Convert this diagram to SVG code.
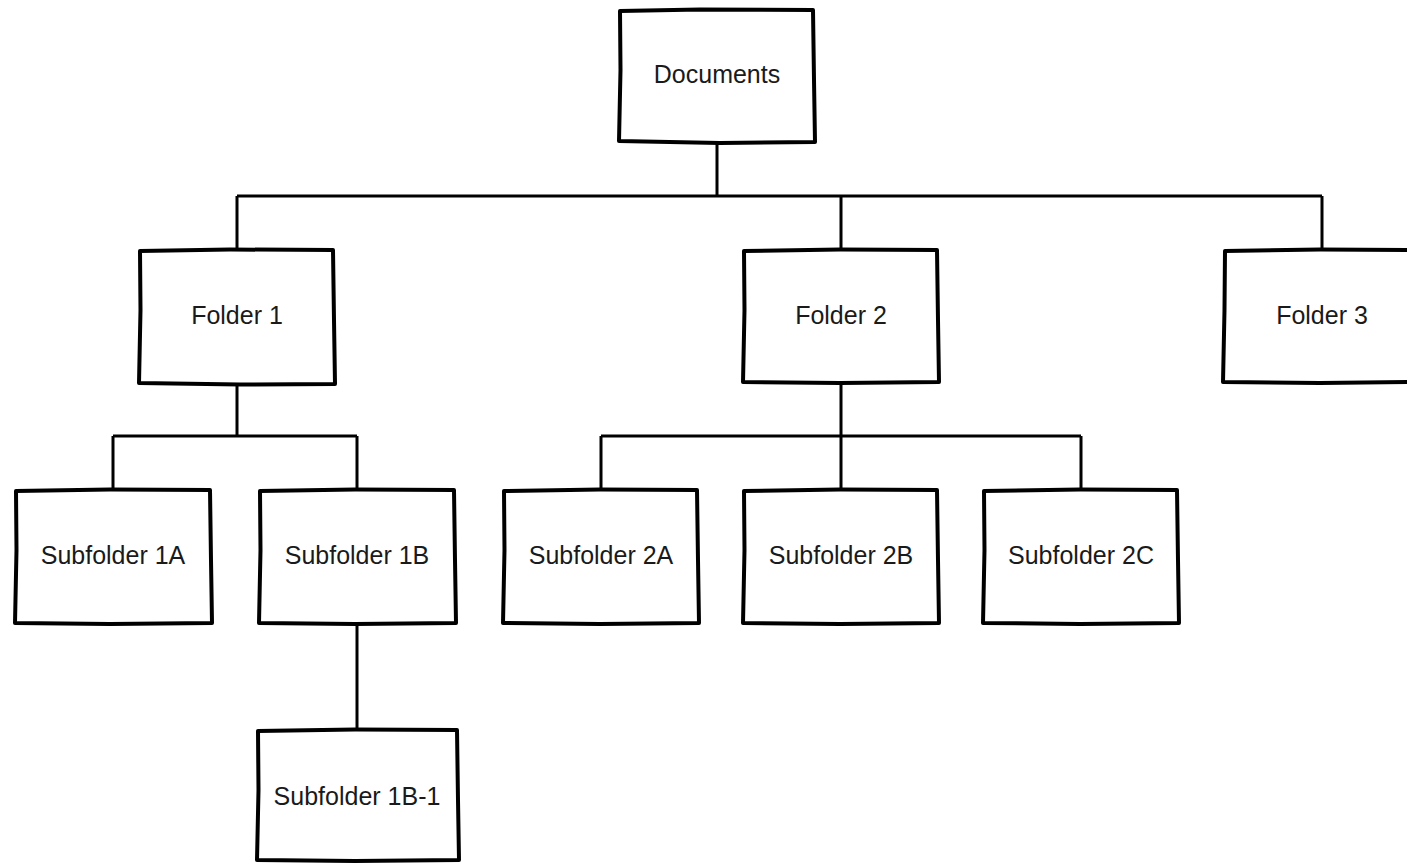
<svg xmlns="http://www.w3.org/2000/svg" width="1407" height="863" viewBox="0 0 1407 863">
<style>
.box{fill:#fff;stroke:#000;stroke-width:4;stroke-linejoin:round;stroke-linecap:round}
.lbl{font-family:"Liberation Sans",Arial,sans-serif;font-size:25px;fill:#1a1a1a;text-anchor:middle}
.con{fill:none;stroke:#000;stroke-width:3}
</style>
<rect width="1407" height="863" fill="#fff"/>
<g id="connectors">
<path class="con" d="M717 143 V196 M237 196 H1322 M237 196 V250 M841 196 V250 M1322 196 V250"/>
<path class="con" d="M237 384 V436 M113 436 H357 M113 436 V490 M357 436 V490"/>
<path class="con" d="M841 383 V436 M601 436 H1081 M601 436 V490 M841 436 V490 M1081 436 V490"/>
<path class="con" d="M357 624 V730"/>
</g>
<g id="documents">
<path class="box" d="M620 11 L700 9.5 L813 10 L814 80 L815 142 L720 143 L619 141 L620.5 70 Z"/>
<text class="lbl" x="717" y="83">Documents</text>
</g>
<g id="folder1">
<path class="box" d="M140 251 L230 249.5 L333 250 L334 320 L335 384 L240 384.5 L139 383 L140.5 310 Z"/>
<text class="lbl" x="237" y="324">Folder 1</text>
</g>
<g id="folder2">
<path class="box" d="M744 251 L840 249.5 L937 250 L938 320 L939 382 L840 383 L743 382 L744.5 310 Z"/>
<text class="lbl" x="841" y="324">Folder 2</text>
</g>
<g id="folder3">
<path class="box" d="M1225 251 L1320 249.5 L1410 250 L1410 382 L1320 383 L1223 382 L1224.5 310 Z"/>
<text class="lbl" x="1322" y="324">Folder 3</text>
</g>
<g id="sub1a">
<path class="box" d="M16 491 L110 489.5 L210 490 L211 560 L212 623 L110 624 L15 623 L16.5 550 Z"/>
<text class="lbl" x="113" y="564">Subfolder 1A</text>
</g>
<g id="sub1b">
<path class="box" d="M260 491 L355 489.5 L454 490 L455 560 L456 623 L355 624 L259 623 L260.5 550 Z"/>
<text class="lbl" x="357" y="564">Subfolder 1B</text>
</g>
<g id="sub2a">
<path class="box" d="M504 491 L600 489.5 L697 490 L698 560 L699 623 L600 624 L503 623 L504.5 550 Z"/>
<text class="lbl" x="601" y="564">Subfolder 2A</text>
</g>
<g id="sub2b">
<path class="box" d="M744 491 L840 489.5 L937 490 L938 560 L939 623 L840 624 L743 623 L744.5 550 Z"/>
<text class="lbl" x="841" y="564">Subfolder 2B</text>
</g>
<g id="sub2c">
<path class="box" d="M984 491 L1080 489.5 L1177 490 L1178 560 L1179 623 L1080 624 L983 623 L984.5 550 Z"/>
<text class="lbl" x="1081" y="564">Subfolder 2C</text>
</g>
<g id="sub1b1">
<path class="box" d="M258 731 L355 729.5 L457 730 L458 800 L459 860 L355 861 L257 860 L258.5 790 Z"/>
<text class="lbl" x="357" y="805">Subfolder 1B-1</text>
</g>
</svg>
